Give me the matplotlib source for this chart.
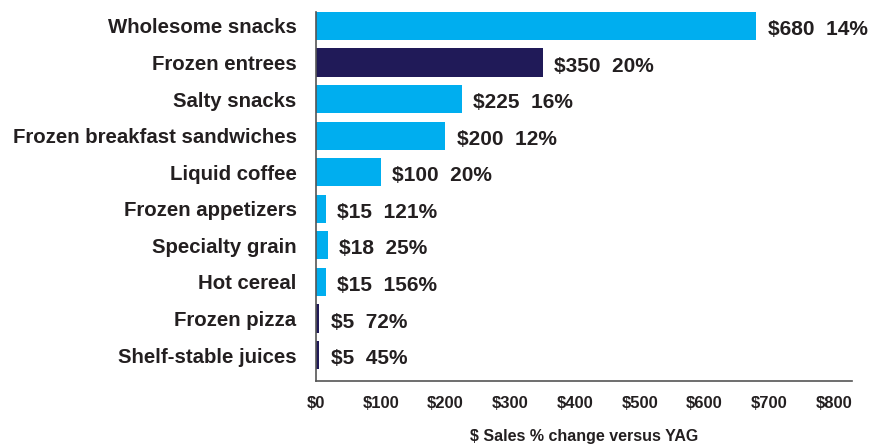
import matplotlib
matplotlib.use("Agg")
import matplotlib.pyplot as plt

# category sales ($ millions) and percent change vs. year ago
categories = ["Wholesome snacks", "Frozen entrees", "Salty snacks",
              "Frozen breakfast sandwiches", "Liquid coffee", "Frozen appetizers",
              "Specialty grain", "Hot cereal", "Frozen pizza", "Shelf-stable juices"]
sales = [680, 350, 225, 200, 100, 15, 18, 15, 5, 5]
pct_change = [14, 20, 16, 12, 20, 121, 25, 156, 72, 45]
dark = [False, True, False, False, False, False, False, False, True, True]

tick_vals = [0, 100, 200, 300, 400, 500, 600, 700, 800]
tick_labels = ["$" + str(v) for v in tick_vals]

LIGHT = "#00aeef"
NAVY = "#201a58"
INK = "#231f20"

plt.rcParams["font.family"] = ["Liberation Sans", "DejaVu Sans"]

fig = plt.figure(figsize=(8.75, 4.46), dpi=100)
ax = fig.add_axes([0.3611, 0.1457, 0.6126, 0.8274])

ypos = list(range(len(categories)))
colors = [NAVY if d else LIGHT for d in dark]
ax.barh(ypos, sales, height=0.77, color=colors)

for y, s, p in zip(ypos, sales, pct_change):
    ax.text(s + 18, y + 0.1, "$%d  %d%%" % (s, p), va="center", ha="left",
            fontsize=15, fontweight="bold", color=INK)

ax.set_yticks(ypos)
ax.set_yticklabels(categories, fontsize=14.7, fontweight="bold", color=INK)
ax.set_ylim(9.71, -0.38)
ax.set_xlim(0, 828)
ax.set_xticks(tick_vals)
ax.set_xticklabels(tick_labels, fontsize=12, fontweight="bold", color=INK)
ax.tick_params(axis="y", length=0, pad=14)
ax.tick_params(axis="x", length=0, pad=11)

for side in ["top", "right"]:
    ax.spines[side].set_visible(False)
for side in ["left", "bottom"]:
    ax.spines[side].set_color("#555555")
    ax.spines[side].set_linewidth(1.2)

ax.set_xlabel("$ Sales % change versus YAG", fontsize=11.5, fontweight="bold",
              color=INK, labelpad=13)

fig.savefig("out.png", dpi=100)
